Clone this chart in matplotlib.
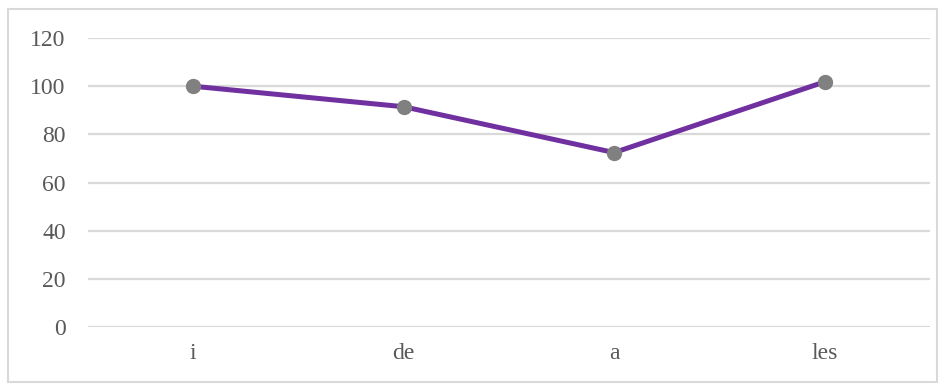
import matplotlib
matplotlib.use('Agg')
import matplotlib.pyplot as plt
from matplotlib.patches import Rectangle

# word frequencies (relative, %)
words = ['i', 'de', 'a', 'les']
values = [100, 91.5, 72.5, 101.8]
yticks = [0, 20, 40, 60, 80, 100, 120]

fig = plt.figure(figsize=(9.48, 3.86), dpi=100, facecolor='white')
ax = fig.add_axes([0.0928, 0.1516, 0.888, 0.75])

x = range(len(words))
ax.plot(x, values, color='#7030A0', linewidth=3.6, zorder=3,
        marker='o', markersize=10, markerfacecolor='#808080',
        markeredgecolor='#808080')

ax.set_xlim(-0.5, len(words) - 0.5)
ax.set_ylim(0, 120)
ax.set_yticks(yticks)
ax.set_xticks(list(x))
ax.set_xticklabels(words)
ax.yaxis.grid(True, color='#d9d9d9', linewidth=1.6)
ax.set_axisbelow(True)
for s in ax.spines.values():
    s.set_visible(False)

ax.tick_params(axis='y', length=0, pad=16, labelsize=17,
               labelcolor='#595959')
ax.tick_params(axis='x', length=0, pad=11, labelsize=17,
               labelcolor='#595959')
for lab in ax.get_xticklabels() + ax.get_yticklabels():
    lab.set_family('Liberation Serif')

# outer chart border
fig.patches.append(Rectangle((8 / 948, 4 / 386), 929 / 948, 373 / 386,
                             transform=fig.transFigure, fill=False,
                             edgecolor='#d9d9d9', linewidth=1.5))

fig.savefig('out.png', dpi=100)
